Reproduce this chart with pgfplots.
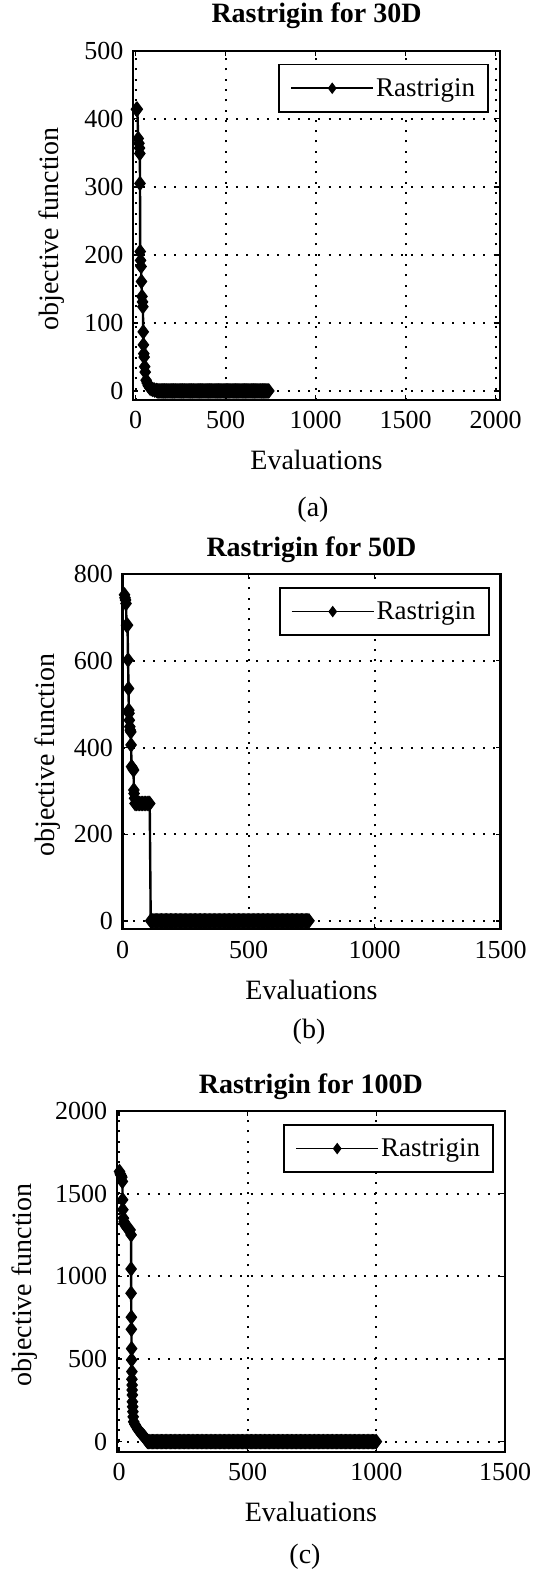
\documentclass[border=0pt]{standalone}
\usepackage{pgfplots}
\pgfplotsset{compat=1.18}
\usepackage{fontspec}
\setmainfont{Liberation Serif}
\newcommand\fL{\fontsize{28}{32}\selectfont}
\newcommand\fG{\fontsize{27}{32}\selectfont}
\newcommand\fT{\fontsize{26}{30}\selectfont}
\pgfplotsset{
  rast/.style={
    scale only axis,
    anchor=south west,
    axis line style={line width=2.2pt},
    tick align=inside,
    major tick length=5pt,
    tick style={line width=1.4pt, black},
    grid=major,
    major grid style={line width=2pt, dash pattern=on 2pt off 8.3pt, black},
    tick label style={font=\fT},
    xticklabel style={yshift=-8pt},
    yticklabel style={xshift=-6pt},
    /pgf/number format/assume math mode=true,
    /pgf/number format/1000 sep={},
    scaled ticks=false,
    label style={font=\fL},
    title style={font=\fL\bfseries, anchor=base},
    xlabel style={anchor=base},
    ylabel style={anchor=center},
    legend style={at={(axis description cs:1,1)}, anchor=north east, xshift=-11pt, yshift=-13pt,
      draw=black, line width=1.8pt, font=\fG, inner xsep=11pt, inner ysep=12pt,
      nodes={inner sep=2pt}},
    legend image code/.code={\draw[line width=1.8pt,mark repeat=2,mark phase=2,mark size=5pt] plot coordinates {(0pt,0pt) (41pt,0pt) (82pt,0pt)};},
  },
  rline/.style={black, line width=2.4pt, mark=diamond*, mark size=7pt, mark options={solid, fill=black, line width=1pt}},
}
\begin{document}
\begin{tikzpicture}[x=1pt,y=1pt]
\useasboundingbox (0,0) rectangle (544,1573);

% ---------- (a) ----------
\begin{axis}[rast, at={(133pt,1173pt)}, width=367pt, height=349.3pt,
  xmin=-15, xmax=2025, ymin=-13, ymax=500,
  xtick={0,500,1000,1500,2000}, ytick={0,100,200,300,400,500},
  title={Rastrigin for 30D}, title style={at={(axis description cs:0.5,1.064)}},
  xlabel={Evaluations}, xlabel style={at={(axis description cs:0.5,-0.2004)}},
  ylabel={objective function}, ylabel style={at={(axis description cs:-0.221,0.49)}}]
\addplot[rline] coordinates {
(4,414)(9,414)(14,371)(18,364)(21,357)(23,349)(24,305)(25,205)(27,192)(30,183)(32,161)(35,139)(38,131)(40,124)(42,87)(43,68)(45,55)(47,50)(50,36)(53,28)(58,16)(64,12)(70,8)(78,5)(86,3.5)(95,2.5)(105,1.5)(115,1)(120,0.5)
(125,0.3)(130,0.3)(135,0.3)(140,0.3)(145,0.3)(150,0.3)(155,0.3)(160,0.3)(165,0.3)(170,0.3)
(175,0.3)(180,0.3)(185,0.3)(190,0.3)(195,0.3)(200,0.3)(205,0.3)(210,0.3)(215,0.3)(220,0.3)
(225,0.3)(230,0.3)(235,0.3)(240,0.3)(245,0.3)(250,0.3)(255,0.3)(260,0.3)(265,0.3)(270,0.3)
(275,0.3)(280,0.3)(285,0.3)(290,0.3)(295,0.3)(300,0.3)(305,0.3)(310,0.3)(315,0.3)(320,0.3)
(325,0.3)(330,0.3)(335,0.3)(340,0.3)(345,0.3)(350,0.3)(355,0.3)(360,0.3)(365,0.3)(370,0.3)
(375,0.3)(380,0.3)(385,0.3)(390,0.3)(395,0.3)(400,0.3)(405,0.3)(410,0.3)(415,0.3)(420,0.3)
(425,0.3)(430,0.3)(435,0.3)(440,0.3)(445,0.3)(450,0.3)(455,0.3)(460,0.3)(465,0.3)(470,0.3)
(475,0.3)(480,0.3)(485,0.3)(490,0.3)(495,0.3)(500,0.3)(505,0.3)(510,0.3)(515,0.3)(520,0.3)
(525,0.3)(530,0.3)(535,0.3)(540,0.3)(545,0.3)(550,0.3)(555,0.3)(560,0.3)(565,0.3)(570,0.3)
(575,0.3)(580,0.3)(585,0.3)(590,0.3)(595,0.3)(600,0.3)(605,0.3)(610,0.3)(615,0.3)(620,0.3)
(625,0.3)(630,0.3)(635,0.3)(640,0.3)(645,0.3)(650,0.3)(655,0.3)(660,0.3)(665,0.3)(670,0.3)
(675,0.3)(680,0.3)(685,0.3)(690,0.3)(695,0.3)(700,0.3)(705,0.3)(710,0.3)(715,0.3)(720,0.3)
(725,0.3)(730,0.3)(735,0.3)(740,0.3)
};
\addlegendentry{Rastrigin}
\end{axis}

% ---------- (b) ----------
\begin{axis}[rast, at={(122.5pt,643.7pt)}, width=378pt, height=355.3pt,
  xmin=0, xmax=1500, ymin=-19, ymax=800,
  xtick={0,500,1000,1500}, ytick={0,200,400,600,800},
  title={Rastrigin for 50D}, title style={at={(axis description cs:0.5,1.033)}},
  xlabel={Evaluations}, xlabel style={at={(axis description cs:0.5,-0.197)}},
  ylabel={objective function}, ylabel style={at={(axis description cs:-0.198,0.49)}}]
\addplot[rline] coordinates {
(8,752)(10,745)(12,740)(14,732)(16,682)(20,682)(22,602)(24,536)(25,486)(26,479)(27,463)(29,448)(31,440)(33,436)(34,406)(36,356)(40,352)(44,348)(45,302)(46,294)(48,283)(50,271)(56,271)(62,271)(68,271)(74,271)(80,271)(86,271)(92,271)(98,271)(104,271)(108,271)
(112,0.5)(115,0.5)(120,0.5)
(125,0.5)(130,0.5)(135,0.5)(140,0.5)(145,0.5)(150,0.5)(155,0.5)(160,0.5)(165,0.5)(170,0.5)
(175,0.5)(180,0.5)(185,0.5)(190,0.5)(195,0.5)(200,0.5)(205,0.5)(210,0.5)(215,0.5)(220,0.5)
(225,0.5)(230,0.5)(235,0.5)(240,0.5)(245,0.5)(250,0.5)(255,0.5)(260,0.5)(265,0.5)(270,0.5)
(275,0.5)(280,0.5)(285,0.5)(290,0.5)(295,0.5)(300,0.5)(305,0.5)(310,0.5)(315,0.5)(320,0.5)
(325,0.5)(330,0.5)(335,0.5)(340,0.5)(345,0.5)(350,0.5)(355,0.5)(360,0.5)(365,0.5)(370,0.5)
(375,0.5)(380,0.5)(385,0.5)(390,0.5)(395,0.5)(400,0.5)(405,0.5)(410,0.5)(415,0.5)(420,0.5)
(425,0.5)(430,0.5)(435,0.5)(440,0.5)(445,0.5)(450,0.5)(455,0.5)(460,0.5)(465,0.5)(470,0.5)
(475,0.5)(480,0.5)(485,0.5)(490,0.5)(495,0.5)(500,0.5)(505,0.5)(510,0.5)(515,0.5)(520,0.5)
(525,0.5)(530,0.5)(535,0.5)(540,0.5)(545,0.5)(550,0.5)(555,0.5)(560,0.5)(565,0.5)(570,0.5)
(575,0.5)(580,0.5)(585,0.5)(590,0.5)(595,0.5)(600,0.5)(605,0.5)(610,0.5)(615,0.5)(620,0.5)
(625,0.5)(630,0.5)(635,0.5)(640,0.5)(645,0.5)(650,0.5)(655,0.5)(660,0.5)(665,0.5)(670,0.5)
(675,0.5)(680,0.5)(685,0.5)(690,0.5)(695,0.5)(700,0.5)(705,0.5)(710,0.5)(715,0.5)(720,0.5)
(725,0.5)(730,0.5)(735,0.5)(740,0.5)
};
\addlegendentry{Rastrigin}
\end{axis}

% ---------- (c) ----------
\begin{axis}[rast, at={(116.7pt,121.3pt)}, width=388.3pt, height=340.7pt,
  xmin=-9, xmax=1500, ymin=-60, ymax=2000,
  xtick={0,500,1000,1500}, ytick={0,500,1000,1500,2000},
  title={Rastrigin for 100D}, title style={at={(axis description cs:0.5,1.035)}},
  xlabel={Evaluations}, xlabel style={at={(axis description cs:0.5,-0.206)}},
  ylabel={objective function}, ylabel style={at={(axis description cs:-0.238,0.49)}}]
\addplot[rline] coordinates {
(2,1634)(5,1620)(8,1610)(11,1600)(13,1574)(14,1463)(15,1403)(17,1352)(20,1330)(24,1310)(28,1300)(33,1290)(38,1285)(43,1281)(47,1251)(47,1045)(47,898)(48,753)(48,680)(49,563)(49,495)(50,424)(50,378)(51,343)(51,313)(52,283)(52,242)(53,212)(54,182)(55,151)(57,121)(62,105)(67,91)(73,75)(80,61)(86,50)(92,41)(98,30)(103,20)(107,10)(110,3)(113,1)
(116,1)(120,1)
(125,1)(130,1)(135,1)(140,1)(145,1)(150,1)(155,1)(160,1)(165,1)(170,1)
(175,1)(180,1)(185,1)(190,1)(195,1)(200,1)(205,1)(210,1)(215,1)(220,1)
(225,1)(230,1)(235,1)(240,1)(245,1)(250,1)(255,1)(260,1)(265,1)(270,1)
(275,1)(280,1)(285,1)(290,1)(295,1)(300,1)(305,1)(310,1)(315,1)(320,1)
(325,1)(330,1)(335,1)(340,1)(345,1)(350,1)(355,1)(360,1)(365,1)(370,1)
(375,1)(380,1)(385,1)(390,1)(395,1)(400,1)(405,1)(410,1)(415,1)(420,1)
(425,1)(430,1)(435,1)(440,1)(445,1)(450,1)(455,1)(460,1)(465,1)(470,1)
(475,1)(480,1)(485,1)(490,1)(495,1)(500,1)(505,1)(510,1)(515,1)(520,1)
(525,1)(530,1)(535,1)(540,1)(545,1)(550,1)(555,1)(560,1)(565,1)(570,1)
(575,1)(580,1)(585,1)(590,1)(595,1)(600,1)(605,1)(610,1)(615,1)(620,1)
(625,1)(630,1)(635,1)(640,1)(645,1)(650,1)(655,1)(660,1)(665,1)(670,1)
(675,1)(680,1)(685,1)(690,1)(695,1)(700,1)(705,1)(710,1)(715,1)(720,1)
(725,1)(730,1)(735,1)(740,1)(745,1)(750,1)(755,1)(760,1)(765,1)(770,1)
(775,1)(780,1)(785,1)(790,1)(795,1)(800,1)(805,1)(810,1)(815,1)(820,1)
(825,1)(830,1)(835,1)(840,1)(845,1)(850,1)(855,1)(860,1)(865,1)(870,1)
(875,1)(880,1)(885,1)(890,1)(895,1)(900,1)(905,1)(910,1)(915,1)(920,1)
(925,1)(930,1)(935,1)(940,1)(945,1)(950,1)(955,1)(960,1)(965,1)(970,1)
(975,1)(980,1)(985,1)(990,1)(995,1)(1000,1)
};
\addlegendentry{Rastrigin}
\end{axis}

\node[font=\fL] at (313,1063) {(a)};
\node[font=\fL] at (309,541) {(b)};
\node[font=\fL] at (305,16) {(c)};
\end{tikzpicture}
\end{document}
